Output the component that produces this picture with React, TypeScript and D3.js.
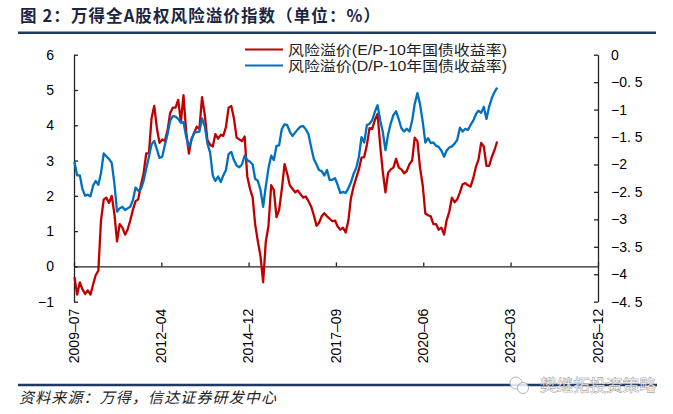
import { useEffect, useRef } from "react";
import * as d3 from "d3";

// monthly observations, 2009-07 .. 2022-10
const months = [
  "2009-07", "2009-08", "2009-09", "2009-10", "2009-11", "2009-12",
  "2010-01", "2010-02", "2010-03", "2010-04", "2010-05", "2010-06", "2010-07", "2010-08", "2010-09", "2010-10", "2010-11", "2010-12",
  "2011-01", "2011-02", "2011-03", "2011-04", "2011-05", "2011-06", "2011-07", "2011-08", "2011-09", "2011-10", "2011-11", "2011-12",
  "2012-01", "2012-02", "2012-03", "2012-04", "2012-05", "2012-06", "2012-07", "2012-08", "2012-09", "2012-10", "2012-11", "2012-12",
  "2013-01", "2013-02", "2013-03", "2013-04", "2013-05", "2013-06", "2013-07", "2013-08", "2013-09", "2013-10", "2013-11", "2013-12",
  "2014-01", "2014-02", "2014-03", "2014-04", "2014-05", "2014-06", "2014-07", "2014-08", "2014-09", "2014-10", "2014-11", "2014-12",
  "2015-01", "2015-02", "2015-03", "2015-04", "2015-05", "2015-06", "2015-07", "2015-08", "2015-09", "2015-10", "2015-11", "2015-12",
  "2016-01", "2016-02", "2016-03", "2016-04", "2016-05", "2016-06", "2016-07", "2016-08", "2016-09", "2016-10", "2016-11", "2016-12",
  "2017-01", "2017-02", "2017-03", "2017-04", "2017-05", "2017-06", "2017-07", "2017-08", "2017-09", "2017-10", "2017-11", "2017-12",
  "2018-01", "2018-02", "2018-03", "2018-04", "2018-05", "2018-06", "2018-07", "2018-08", "2018-09", "2018-10", "2018-11", "2018-12",
  "2019-01", "2019-02", "2019-03", "2019-04", "2019-05", "2019-06", "2019-07", "2019-08", "2019-09", "2019-10", "2019-11", "2019-12",
  "2020-01", "2020-02", "2020-03", "2020-04", "2020-05", "2020-06", "2020-07", "2020-08", "2020-09", "2020-10", "2020-11", "2020-12",
  "2021-01", "2021-02", "2021-03", "2021-04", "2021-05", "2021-06", "2021-07", "2021-08", "2021-09", "2021-10", "2021-11", "2021-12",
  "2022-01", "2022-02", "2022-03", "2022-04", "2022-05", "2022-06", "2022-07", "2022-08", "2022-09", "2022-10",
];

// 风险溢价 (E/P - 10年国债收益率), left axis
const epPremium = [
  -0.3, -0.8, -0.45, -0.65, -0.78, -0.68,
  -0.8, -0.5, -0.25, -0.12, 1.3, 1.89, 1.95, 1.8, 2.0, 1.5, 0.71, 1.2,
  1.1, 0.9, 1.04, 1.3, 1.6, 1.85, 1.9, 2.3, 2.64, 3.2, 3.21, 4.2,
  4.55, 3.9, 3.5, 3.6, 3.55, 3.85, 4.35, 4.5, 4.5, 4.72, 4.1, 4.85,
  3.8, 3.2, 3.6, 3.77, 3.96, 3.9, 4.8, 4.3, 3.58, 3.45, 3.4, 3.75,
  3.62, 3.73, 3.7, 3.95, 4.5, 4.55, 4.2, 3.65, 3.6, 3.55, 3.68, 2.55,
  2.2, 1.95, 1.2, 0.71, 0.3, -0.45, 0.7, 1.15, 2.3, 2.17, 1.4, 1.6,
  2.2, 2.9, 2.64, 2.3, 2.2, 2.1, 2.15, 2.05, 1.95, 1.98, 1.85, 1.7,
  1.45, 1.15, 1.23, 1.42, 1.51, 1.42, 1.35, 1.28, 1.3, 1.13, 1.04, 1.1,
  0.96, 1.3, 1.92, 2.26, 2.5, 2.75, 3.08, 3.1, 3.45, 3.92, 3.9, 4.15,
  4.32, 3.4, 2.7, 2.1, 2.65, 2.75, 2.8, 3.05, 2.8, 2.75, 2.64, 2.7,
  2.9, 3.0, 3.65, 3.55, 2.8, 2.3, 1.5, 1.45, 1.42, 1.2, 1.2, 1.04,
  1.1, 0.9, 1.3, 1.55, 1.95, 1.82, 1.9, 2.1, 2.33, 2.36, 2.3, 2.26,
  2.5, 2.83, 3.02, 3.5, 3.4, 2.85, 2.85, 3.1, 3.3, 3.54,
];

// 风险溢价 (D/P - 10年国债收益率), right axis
const dpPremium = [
  -1.95, -2.2, -2.2, -2.45, -2.57, -2.55,
  -2.58, -2.38, -2.3, -2.37, -2.16, -1.8, -1.85, -1.9, -1.97, -2.34, -2.86, -2.8,
  -2.77, -2.83, -2.8, -2.77, -2.65, -2.42, -2.48, -2.45, -2.3, -2.08, -1.86, -1.63,
  -1.57, -1.73, -1.88, -1.86, -1.65, -1.45, -1.2, -1.12, -1.13, -1.17, -1.24, -1.23,
  -1.5, -1.68, -1.56, -1.42, -1.41, -1.4, -1.16, -1.3, -1.62, -1.78, -2.2, -2.3,
  -2.22, -2.32, -2.2, -2.1, -1.81, -1.77, -1.92, -2.02, -2.05, -2.0, -1.84, -1.92,
  -1.95, -2.0, -2.26, -2.3, -2.46, -2.77, -2.4, -2.07, -1.84, -1.92, -1.66, -1.65,
  -1.35, -1.27, -1.28, -1.4, -1.48, -1.42, -1.36, -1.31, -1.3, -1.36, -1.45, -1.68,
  -1.9, -2.0, -2.1, -2.12, -2.2, -2.1, -2.28, -2.28, -2.25, -2.37, -2.52, -2.5,
  -2.52, -2.43, -2.33, -2.17, -2.07, -1.86, -1.5, -1.6, -1.28, -1.26, -1.19, -1.04,
  -0.92, -1.2, -1.4, -1.74, -1.46, -1.25, -1.1, -1.03, -1.18, -1.34, -1.4, -1.35,
  -1.4, -1.2, -0.9, -0.7, -0.9, -1.22, -1.6, -1.52, -1.61, -1.6, -1.66, -1.68,
  -1.75, -1.86, -1.75, -1.69, -1.67, -1.62, -1.55, -1.33, -1.4, -1.35, -1.37, -1.28,
  -1.2, -1.08, -1.02, -1.06, -0.95, -1.17, -0.95, -0.79, -0.68, -0.6,
];

const tickDates = ["2009-07-10", "2012-04-05", "2014-12-30", "2017-09-25", "2020-06-21", "2023-03-18", "2025-12-13"];
const tickLabels = ["2009-07", "2012-04", "2014-12", "2017-09", "2020-06", "2023-03", "2025-12"];
const leftTicks = [6, 5, 4, 3, 2, 1, 0, -1];
const rightTicks = [0, -0.5, -1, -1.5, -2, -2.5, -3, -3.5, -4, -4.5];
const seriesNames = ["风险溢价(E/P-10年国债收益率)", "风险溢价(D/P-10年国债收益率)"];
const seriesColors = ["#c00000", "#0070c0"];

const title = "图 2：万得全A股权风险溢价指数（单位：%）";
const source = "资料来源：万得，信达证券研发中心";
const watermark = "樊继拓投资策略";

const numFont = "'Liberation Sans', Arial, sans-serif";
const cjkFont = "'Noto Sans CJK SC', sans-serif";
// latin first so the text box keeps a compact height, CJK falls back
const legendFont = "'Liberation Sans', 'Noto Sans CJK SC', sans-serif";

export default function App() {
  const svgRef = useRef<SVGSVGElement | null>(null);
  const width = 673;
  const height = 414;

  useEffect(() => {
    document.body.style.margin = "0";
    const svg = d3.select(svgRef.current);
    svg.selectAll("*").remove();

    const plot = { left: 74, right: 598, top: 54.7, bottom: 301.7 };
    const parse = d3.utcParse("%Y-%m-%d");

    const x = d3
      .scaleUtc()
      .domain([parse(tickDates[0])!, parse(tickDates[tickDates.length - 1])!])
      .range([plot.left, plot.right]);
    const yL = d3.scaleLinear().domain([-1, 6]).range([plot.bottom, plot.top]);
    const yR = d3.scaleLinear().domain([-4.5, 0]).range([plot.bottom, plot.top]);

    // title + rules
    svg.append("text")
      .attr("x", 20).attr("y", 21.5)
      .attr("textLength", 360).attr("lengthAdjust", "spacing")
      .style("font-family", cjkFont).style("font-size", "16.5px").style("font-weight", 700)
      .style("fill", "#1c2540")
      .text(title);
    svg.append("line")
      .attr("x1", 18).attr("x2", 656).attr("y1", 32.7).attr("y2", 32.7)
      .attr("stroke", "#1f3864").attr("stroke-width", 2.5);
    svg.append("line")
      .attr("x1", 18).attr("x2", 657).attr("y1", 385).attr("y2", 385)
      .attr("stroke", "#1f3864").attr("stroke-width", 2.5);

    // left axis (ticks inward)
    const gL = svg.append("g").attr("transform", `translate(${plot.left},0)`)
      .call(d3.axisLeft(yL).tickValues(leftTicks).tickSize(-4).tickSizeOuter(0).tickPadding(20)
        .tickFormat((d) => (+d < 0 ? "\u2212" + Math.abs(+d) : String(d))));
    gL.select(".domain").attr("stroke", "#222").attr("stroke-width", 1.3);
    gL.selectAll(".tick line").attr("stroke", "#222").attr("stroke-width", 1.3);
    gL.selectAll("text").style("font-family", numFont).style("font-size", "14px").style("fill", "#000");

    // right axis (ticks inward)
    const gR = svg.append("g").attr("transform", `translate(${plot.right},0)`)
      .call(d3.axisRight(yR).tickValues(rightTicks).tickSize(-4).tickSizeOuter(0).tickPadding(13)
        .tickFormat((d) => (+d === 0 ? "0" : "\u2212" + String(Math.abs(+d)).replace(".", ". "))));
    gR.select(".domain").attr("stroke", "#222").attr("stroke-width", 1.3);
    gR.selectAll(".tick line").attr("stroke", "#222").attr("stroke-width", 1.3);
    gR.selectAll("text").style("font-family", numFont).style("font-size", "14px").style("fill", "#000");

    // x axis sits on left-axis zero, ticks point up
    const gX = svg.append("g").attr("transform", `translate(0,${yL(0)})`)
      .call(d3.axisBottom(x).tickValues(tickDates.map((d) => parse(d)!)).tickSize(-4).tickSizeOuter(0)
        .tickFormat(() => ""));
    gX.select(".domain").attr("stroke", "#222").attr("stroke-width", 1.3);
    gX.selectAll(".tick line").attr("stroke", "#222").attr("stroke-width", 1.3);

    // rotated date labels under the plot
    svg.append("g").selectAll("text")
      .data(tickDates)
      .join("text")
      .attr("transform", (d) => `translate(${x(parse(d)!)},${plot.bottom + 7}) rotate(-90)`)
      .attr("dy", "0.35em")
      .attr("text-anchor", "end")
      .style("font-family", numFont).style("font-size", "14px").style("fill", "#000")
      .text((_, i) => tickLabels[i].replace("-", "\u2013"));

    // series
    const dates = months.map((m) => parse(m + "-15")!);
    const lineL = d3.line<number>().x((_, i) => x(dates[i])).y((d) => yL(d));
    const lineR = d3.line<number>().x((_, i) => x(dates[i])).y((d) => yR(d));
    svg.append("path").datum(epPremium)
      .attr("d", lineL).attr("fill", "none")
      .attr("stroke", seriesColors[0]).attr("stroke-width", 2.3).attr("stroke-linejoin", "round");
    svg.append("path").datum(dpPremium)
      .attr("d", lineR).attr("fill", "none")
      .attr("stroke", seriesColors[1]).attr("stroke-width", 2.3).attr("stroke-linejoin", "round");

    // legend
    const legend = svg.append("g");
    seriesNames.forEach((name, i) => {
      const ly = 49.5 + i * 16;
      legend.append("line")
        .attr("x1", 245).attr("x2", 283).attr("y1", ly).attr("y2", ly)
        .attr("stroke", seriesColors[i]).attr("stroke-width", 2);
      legend.append("text")
        .attr("x", 288).attr("y", ly + 5)
        .attr("textLength", 219).attr("lengthAdjust", "spacingAndGlyphs")
        .style("font-family", legendFont).style("font-size", "14px").style("fill", "#222")
        .text(name);
    });

    // footer
    svg.append("text")
      .attr("x", 19).attr("y", 403)
      .attr("textLength", 257).attr("lengthAdjust", "spacing")
      .style("font-family", cjkFont).style("font-size", "15px").style("font-style", "italic")
      .style("fill", "#222")
      .text(source);

    // watermark
    const wm = svg.append("g").style("opacity", 0.85);
    wm.append("circle").attr("cx", 516).attr("cy", 383).attr("r", 6)
      .attr("fill", "#fff").attr("stroke", "#aaa").attr("stroke-width", 1);
    wm.append("circle").attr("cx", 523).attr("cy", 388).attr("r", 5.5)
      .attr("fill", "#fff").attr("stroke", "#aaa").attr("stroke-width", 1);
    wm.append("text")
      .attr("x", 540).attr("y", 391)
      .attr("textLength", 116).attr("lengthAdjust", "spacingAndGlyphs")
      .style("font-family", cjkFont).style("font-size", "16px")
      .style("fill", "#e8e8e8").style("stroke", "#666").style("stroke-width", 0.6)
      .style("paint-order", "stroke")
      .text(watermark);
  }, []);

  return (
    <svg
      ref={svgRef}
      width={width}
      height={height}
      style={{ display: "block", backgroundColor: "#ffffff" }}
    />
  );
}
